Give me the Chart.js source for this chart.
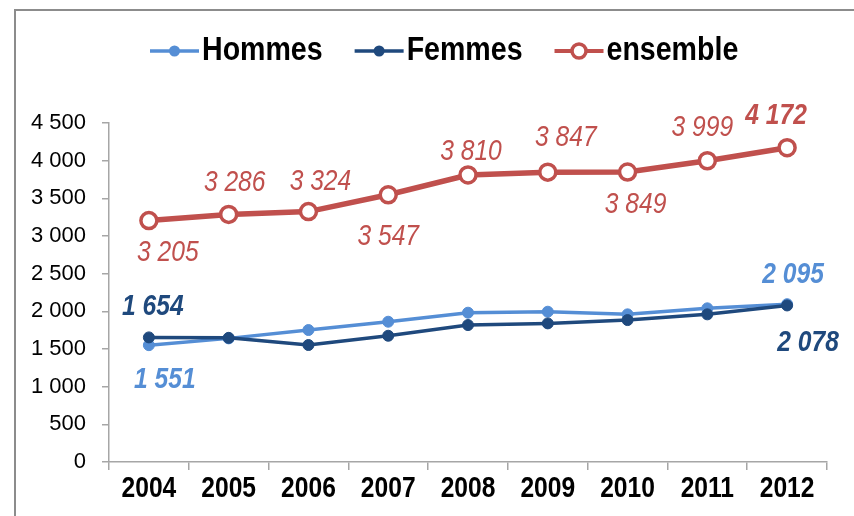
<!DOCTYPE html>
<html>
<head>
<meta charset="utf-8">
<script src="https://cdn.jsdelivr.net/npm/chart.js@4.4.0/dist/chart.umd.min.js"></script>
<style>
  html, body { margin: 0; padding: 0; background: #fff; }
  #wrap { position: relative; width: 854px; height: 516px; overflow: hidden; }
  #frame { position: absolute; left: 14px; top: 9px; width: 900px; height: 600px;
           border-top: 2px solid #8c8c8c; border-left: 2px solid #8c8c8c; }
  canvas { position: absolute; left: 0; top: 0; }
</style>
</head>
<body>
<div id="wrap">
  <div id="frame"></div>
  <canvas id="chart" width="854" height="516"></canvas>
</div>
<script>
/* global Chart */

const years = ['2004', '2005', '2006', '2007', '2008', '2009', '2010', '2011', '2012'];
const hommes = [1551, 1641, 1752, 1862, 1982, 1995, 1960, 2040, 2095];
const femmes = [1654, 1648, 1553, 1676, 1818, 1840, 1884, 1960, 2078];
const ensemble = [3205, 3286, 3324, 3547, 3810, 3847, 3849, 3999, 4172];
const yMin = 0;
const yMax = 4500;
const yStep = 500;

const FONT = '"Liberation Sans", Arial, sans-serif';
const NARROW = 0.82; // no narrow face installed, so squeeze the regular one

// thousands separated by a space, e.g. 4 500
const fmt = v => String(v).replace(/\B(?=(\d{3})+(?!\d))/g, ' ');

function narrowText(ctx, text, x, y, align, squeeze = NARROW) {
  ctx.save();
  ctx.translate(x, y);
  ctx.scale(squeeze, 1);
  ctx.textAlign = align;
  ctx.fillText(text, 0, 0);
  ctx.restore();
}

// where each value label sits relative to its point
const labelSpots = {
  hommes: [{ i: 0, dx: 16, dy: 35, bold: true }, { i: 8, dx: 6, dy: -29, bold: true }],
  femmes: [{ i: 0, dx: 4, dy: -31, bold: true }, { i: 8, dx: 21, dy: 37, bold: true }],
  ensemble: [
    { i: 0, dx: 19, dy: 32 }, { i: 1, dx: 6, dy: -32 }, { i: 2, dx: 12, dy: -30 },
    { i: 3, dx: 0, dy: 42 }, { i: 4, dx: 3, dy: -23 }, { i: 5, dx: 18, dy: -35 },
    { i: 6, dx: 8, dy: 33 }, { i: 7, dx: -5, dy: -33 }, { i: 8, dx: -11, dy: -32, bold: true }
  ]
};

const valueLabels = {
  id: 'valueLabels',
  afterDatasetsDraw(chart) {
    const ctx = chart.ctx;
    chart.data.datasets.forEach((ds, di) => {
      const meta = chart.getDatasetMeta(di);
      (labelSpots[ds.key] || []).forEach(s => {
        const pt = meta.data[s.i];
        ctx.save();
        ctx.font = (s.bold ? 'italic bold ' : 'italic ') + '30px ' + FONT;
        ctx.fillStyle = ds.borderColor;
        ctx.textBaseline = 'middle';
        narrowText(ctx, fmt(ds.data[s.i]), pt.x + s.dx, pt.y + s.dy, 'center');
        ctx.restore();
      });
    });
  }
};

// year labels under the x axis, condensed bold
const yearLabels = {
  id: 'yearLabels',
  afterDraw(chart) {
    const ctx = chart.ctx;
    const xs = chart.scales.x;
    ctx.save();
    ctx.font = 'bold 30px ' + FONT;
    ctx.fillStyle = '#000';
    ctx.textBaseline = 'middle';
    chart.data.labels.forEach((lab, i) => {
      narrowText(ctx, lab, xs.getPixelForValue(i), xs.top + 27, 'center');
    });
    ctx.restore();
  }
};

// legend: line with marker, then bold name
const topLegend = {
  id: 'topLegend',
  afterDraw(chart) {
    const ctx = chart.ctx;
    const y = 51;
    const squeeze = 0.84;
    let x = 150;
    ctx.save();
    ctx.font = 'bold 34px ' + FONT;
    ctx.textBaseline = 'middle';
    chart.data.datasets.forEach(ds => {
      const w = 49;
      ctx.strokeStyle = ds.borderColor;
      ctx.lineWidth = ds.key === 'ensemble' ? 4 : 3.5;
      ctx.beginPath();
      ctx.moveTo(x, y);
      ctx.lineTo(x + w, y);
      ctx.stroke();
      ctx.beginPath();
      if (ds.key === 'ensemble') {
        ctx.arc(x + w / 2, y, 7, 0, Math.PI * 2);
        ctx.fillStyle = '#fff';
        ctx.fill();
        ctx.lineWidth = 3.5;
        ctx.stroke();
      } else {
        ctx.arc(x + w / 2, y, 5.5, 0, Math.PI * 2);
        ctx.fillStyle = ds.borderColor;
        ctx.fill();
      }
      ctx.fillStyle = '#000';
      narrowText(ctx, ds.label, x + w + 3, y, 'left', squeeze);
      x += w + 3 + ctx.measureText(ds.label).width * squeeze + 32;
    });
    ctx.restore();
  }
};

const axisColor = '#a6a6a6';

new Chart(document.getElementById('chart').getContext('2d'), {
  type: 'line',
  data: {
    labels: years,
    datasets: [
      {
        key: 'hommes', label: 'Hommes', data: hommes, order: 1,
        borderColor: '#558ED5', backgroundColor: '#558ED5', borderWidth: 3.5,
        pointRadius: 5.5, pointBackgroundColor: '#558ED5', pointBorderColor: '#558ED5', pointBorderWidth: 1
      },
      {
        key: 'femmes', label: 'Femmes', data: femmes, order: 0,
        borderColor: '#1F497D', backgroundColor: '#1F497D', borderWidth: 3.5,
        pointRadius: 5.5, pointBackgroundColor: '#1F497D', pointBorderColor: '#1F497D', pointBorderWidth: 1
      },
      {
        key: 'ensemble', label: 'ensemble', data: ensemble, order: 2,
        borderColor: '#C0504D', backgroundColor: '#fff', borderWidth: 5.5,
        pointRadius: 8, pointBackgroundColor: '#fff', pointBorderColor: '#C0504D', pointBorderWidth: 3.5
      }
    ]
  },
  options: {
    responsive: false,
    animation: false,
    events: [],
    layout: { padding: { top: 123, right: 27, bottom: 0, left: 0 } },
    scales: {
      x: {
        offset: true,
        grid: { offset: true, drawOnChartArea: false, tickLength: 8, color: axisColor, lineWidth: 1.5 },
        border: { color: axisColor, width: 1.5 },
        ticks: { display: false, autoSkip: false },
        afterFit(s) { s.height = 54; }
      },
      y: {
        min: yMin, max: yMax,
        grid: { drawOnChartArea: false, tickLength: 7, color: axisColor, lineWidth: 1.5 },
        border: { color: axisColor, width: 1.5 },
        ticks: { stepSize: yStep, color: '#000', font: { family: FONT, size: 22 }, padding: 16, callback: v => fmt(v) },
        afterFit(s) { s.width = 109; }
      }
    },
    plugins: {
      legend: { display: false },
      tooltip: { enabled: false }
    }
  },
  plugins: [valueLabels, yearLabels, topLegend]
});
</script>
</body>
</html>
